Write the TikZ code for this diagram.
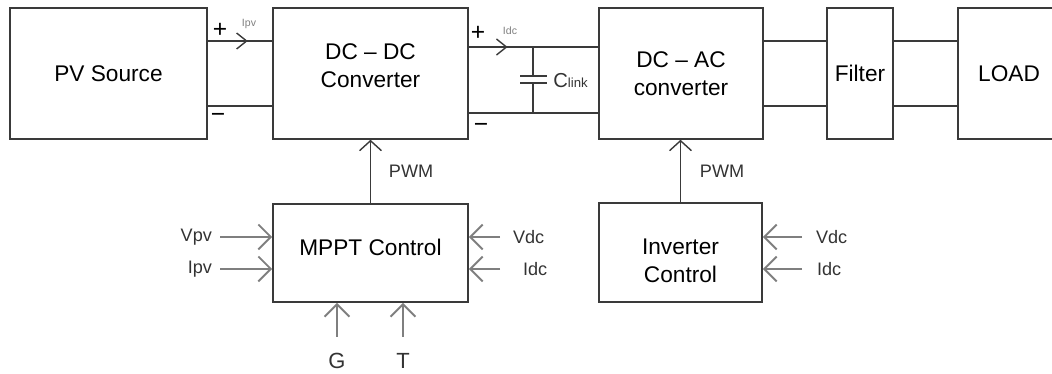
\documentclass[tikz,border=0pt]{standalone}
\usepackage{fontspec}
\setmainfont{Liberation Sans}
\usetikzlibrary{arrows.meta, positioning, decorations.markings}
\definecolor{wire}{HTML}{3A3A3A}
\definecolor{sig}{HTML}{7F7F7F}
\definecolor{txt}{HTML}{333333}

\begin{document}
\begin{tikzpicture}[x=0.02cm, y=-0.02cm,
      font=\fontsize{12.9}{16}\selectfont,
      box/.style={draw=wire, line width=0.9pt, align=center, inner sep=2pt},
      boxtext/.style={label={[align=center, yshift=#1]center:\boxlbl}},
      lbl/.style={font=\fontsize{10.3}{12}\selectfont, text=txt, inner sep=1pt},
      big/.style={font=\fontsize{12.5}{14}\selectfont, text=txt, inner sep=1pt},
      pm/.style={font=\fontsize{14}{16}\selectfont, inner sep=0pt},
      tiny/.style={font=\fontsize{6}{7}\selectfont, text=sig, inner sep=0pt},
      conn/.style={draw=wire, color=wire, line width=0.8pt},
      sigarr/.style={draw=sig, line width=1.1pt, -{Straight Barb[length=2.5mm, width=5mm]}},
      pwmarr/.style={conn, -{Straight Barb[length=2mm, width=4.4mm]}},
      flow/.style={postaction=decorate, decoration={markings,
          mark=at position #1 with {\arrow{Straight Barb[length=2mm, width=3.2mm]}}}}
    ]
    \useasboundingbox (0,0) rectangle (1052,374);
    \clip (0,0) rectangle (1052,374);

    % power stage
    \node[box, minimum width=3.94cm, minimum height=2.62cm] (pv) at (108.5,73.5) {PV Source};
    \node[box, minimum width=3.9cm, minimum height=2.62cm,
      label={[align=center, yshift=1.5mm]center:DC -- DC\\Converter}] (dcdc) at (370.5,73.5) {};
    \node[box, minimum width=3.28cm, minimum height=2.62cm] (dcac) at (681,73.5) {DC -- AC\\converter};
    \node[box, minimum width=1.32cm, minimum height=2.62cm] (filt) at (860,73.5) {Filter};
    \node[box, minimum width=2.04cm, minimum height=2.62cm] (load) at (1009,73.5) {LOAD};

    % control blocks
    \node[box, minimum width=3.9cm, minimum height=1.96cm,
      label={[yshift=1.2mm]center:MPPT Control}] (mppt) at (370.5,253) {};
    \node[box, minimum width=3.26cm, minimum height=1.98cm,
      label={[align=center, yshift=-1.7mm]center:Inverter\\Control}] (inv) at (680.5,252.5) {};

    % dc buses
    \draw[conn, flow=0.62] ([yshift=6.5mm]pv.east) -- ([yshift=6.5mm]pv.east -| dcdc.west);
    \draw[conn] ([yshift=-6.5mm]pv.east) -- ([yshift=-6.5mm]pv.east -| dcdc.west);
    \draw[conn, flow=0.3] ([yshift=5.3mm]dcdc.east) -- ([yshift=5.3mm]dcdc.east -| dcac.west);
    \draw[conn] ([yshift=-7.9mm]dcdc.east) -- ([yshift=-7.9mm]dcdc.east -| dcac.west);
    \foreach \a/\b in {dcac/filt, filt/load} {
      \draw[conn] ([yshift=6.5mm]\a.east) -- ([yshift=6.5mm]\a.east -| \b.west);
      \draw[conn] ([yshift=-6.5mm]\a.east) -- ([yshift=-6.5mm]\a.east -| \b.west);
    }

    \node[pm] (pvp) at (220,30) {+};
    \node[pm] (pvm) at (218,118) {−};
    \node[tiny] (ipvt) at (249,24) {Ipv};
    \node[pm] (dcp) at (478,33) {+};
    \node[pm] (dcm) at (481,128) {−};
    \node[tiny] (idct) at (510,31) {Idc};

    % dc link capacitor
    \coordinate (ctop) at (533,47);
    \coordinate (cbot) at (533,113);
    \draw[conn] (ctop) -- (533,76) (533,83) -- (cbot);
    \draw[conn, line width=1.3pt] (520,76) -- (547,76) (520,83) -- (547,83);
    \node[anchor=west, inner sep=0pt, text=txt] (clink) at (553,81)
      {\fontsize{11.5}{13}\selectfont C{\fontsize{7.5}{9}\selectfont link}};

    % gate signals
    \draw[pwmarr] (mppt.north) -- node[lbl, midway, right=3.2mm] {PWM} (dcdc.south);
    \draw[pwmarr] (inv.north) -- node[lbl, midway, right=3.4mm] {PWM} (inv.north |- dcac.south);

    % mppt inputs
    \coordinate (vpv) at (220,237);
    \coordinate (ipv) at (220,269);
    \draw[sigarr] (vpv) -- (vpv -| mppt.west);
    \draw[sigarr] (ipv) -- (ipv -| mppt.west);
    \node[lbl, left=1.2mm of vpv] (vpvl) {Vpv};
    \node[lbl, left=1.2mm of ipv] (ipvl) {Ipv};

    \coordinate (vdcm) at (500,237);
    \coordinate (idcm) at (500,269);
    \draw[sigarr] (vdcm) -- (vdcm -| mppt.east);
    \draw[sigarr] (idcm) -- (idcm -| mppt.east);
    \node[lbl, right=2.2mm of vdcm] (vdcml) {Vdc};
    \node[lbl, right=4.2mm of idcm] (idcml) {Idc};

    \coordinate (g) at (337,337);
    \coordinate (t) at (403,337);
    \draw[sigarr] (g) -- (g |- mppt.south);
    \draw[sigarr] (t) -- (t |- mppt.south);
    \node[big, below=2.8mm of g] (gl) {G};
    \node[big, below=2.8mm of t] (tl) {T};

    % inverter inputs
    \coordinate (vdci) at (802,237);
    \coordinate (idci) at (802,269);
    \draw[sigarr] (vdci) -- (vdci -| inv.east);
    \draw[sigarr] (idci) -- (idci -| inv.east);
    \node[lbl, right=2.4mm of vdci] (vdcil) {Vdc};
    \node[lbl, right=2.6mm of idci] (idcil) {Idc};
  \end{tikzpicture}
\end{document}
